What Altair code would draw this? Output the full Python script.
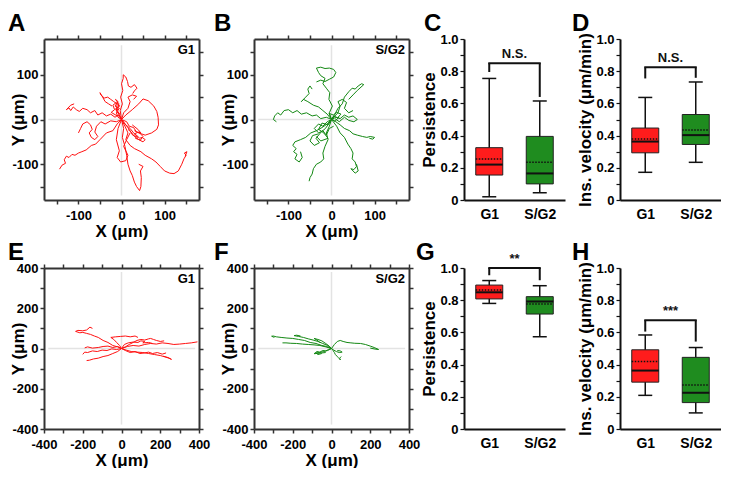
import altair as alt
import pandas as pd

FONT = "Liberation Sans"
GROUPS = ["G1", "S/G2"]
RED_LINE = "#ff1010"
GREEN_LINE = "#138813"
BOX_COLORS = ["#ff1c1c", "#1f8c1f"]

# ---------------- trajectories (um) ----------------
A_TRACKS = [
    [(0, 0), (-3, 20), (2, 35), (-2, 50), (3, 65), (0, 80), (4, 92), (4, 100), (10, 95), (14, 85), (16, 75), (22, 72), (30, 78), (36, 70), (30, 64), (26, 58)],
    [(0, 0), (-8, 10), (-15, 5), (-25, 12), (-35, 8), (-45, 15), (-55, 10), (-62, 20), (-72, 15), (-80, 22), (-90, 25), (-98, 18), (-105, 22), (-112, 28), (-118, 20), (-122, 26), (-128, 22), (-118, 32), (-110, 35)],
    [(0, 0), (-10, -10), (-20, -25), (-35, -30), (-50, -45), (-60, -55), (-70, -58), (-82, -68), (-92, -72), (-100, -75), (-108, -80), (-115, -78), (-122, -85), (-128, -82), (-133, -90), (-130, -98), (-138, -102), (-144, -111)],
    [(0, 0), (8, -15), (15, -30), (10, -45), (20, -58), (30, -65), (45, -72), (55, -80), (70, -88), (80, -95), (90, -105), (100, -115), (112, -120), (122, -121), (132, -115), (140, -100), (145, -88), (150, -80), (146, -75), (152, -72), (148, -82)],
    [(0, 0), (5, -20), (2, -40), (8, -60), (12, -80), (15, -100), (20, -115), (25, -125), (30, -140), (35, -150), (42, -159), (45, -150), (46, -130), (44, -115), (50, -105), (40, -100)],
    [(0, 0), (10, 10), (25, 22), (40, 35), (50, 46), (62, 42), (75, 30), (82, 18), (85, 5), (86, -12), (82, -22), (70, -30), (55, -35), (40, -30), (30, -25)],
    [(0, 0), (10, -12), (20, -20), (28, -30), (35, -35), (42, -42), (48, -40), (55, -45), (50, -50), (40, -45), (30, -38), (22, -28), (15, -22)],
    [(0, 0), (-5, 10), (-12, 20), (-10, 35), (-18, 40), (-25, 45), (-32, 50), (-40, 48), (-48, 55), (-50, 60), (-45, 52), (-38, 40), (-30, 35), (-22, 30)],
    [(0, 0), (-12, -5), (-25, -3), (-38, -10), (-48, -5), (-58, -15), (-62, -28), (-55, -38), (-62, -45), (-70, -40), (-75, -30), (-68, -22), (-72, -12), (-80, -5), (-90, -10), (-95, -20), (-100, -30)],
    [(0, 0), (-8, -20), (-12, -45), (-5, -70), (-10, -85), (-2, -95), (10, -92), (15, -80), (5, -60), (12, -45), (20, -30)],
    [(0, 0), (5, 15), (15, 25), (20, 40), (15, 50), (25, 55), (35, 52), (28, 45)],
    [(0, 0), (-8, 5), (-12, 15), (-5, 25), (-15, 30), (-8, 40), (-14, 45), (-6, 35), (-10, 20), (-4, 12)],
    [(0, 0), (12, -5), (18, -15), (28, -18), (35, -28), (45, -30), (38, -22), (25, -12)],
    [(0, 0), (-6, 12), (-14, 24), (-4, 30), (-12, 38), (-20, 32), (-16, 22), (-24, 16), (-10, 8)],
    [(0, 0), (18, -22), (26, -35), (38, -40), (30, -32), (40, -28), (50, -38), (44, -46), (32, -42)],
]

B_TRACKS = [
    [(0, 0), (-5, 15), (2, 30), (-6, 45), (-4, 60), (-12, 70), (-20, 80), (-15, 92), (-25, 98), (-30, 105), (-35, 115), (-25, 117), (-15, 114), (-5, 115), (5, 112), (10, 105), (5, 95), (-5, 90), (-15, 85), (-25, 88), (-35, 84)],
    [(0, 0), (8, 12), (15, 25), (25, 35), (30, 50), (40, 62), (48, 70), (55, 68), (62, 75), (70, 80), (75, 78), (60, 65), (50, 55), (40, 45)],
    [(0, 0), (-12, 5), (-25, 2), (-35, 10), (-45, 8), (-58, 15), (-70, 12), (-80, 20), (-90, 15), (-100, 22), (-110, 20), (-118, 10), (-125, 15), (-132, 8), (-135, 0), (-128, -5)],
    [(0, 0), (-10, 12), (-20, 20), (-30, 28), (-42, 32), (-55, 40), (-65, 45), (-70, 40), (-60, 50), (-52, 58), (-55, 68), (-50, 75), (-45, 68)],
    [(0, 0), (-10, -10), (-22, -18), (-35, -25), (-48, -30), (-60, -40), (-72, -45), (-85, -50), (-90, -58), (-82, -65), (-88, -72), (-80, -78), (-85, -88), (-75, -95), (-68, -85), (-72, -72)],
    [(0, 0), (-5, -15), (-12, -30), (-8, -45), (-15, -60), (-20, -75), (-18, -88), (-25, -95), (-35, -100), (-42, -110), (-45, -122), (-50, -130), (-52, -138)],
    [(0, 0), (10, -5), (20, -12), (30, -20), (42, -25), (50, -32), (60, -35), (72, -38), (82, -40), (90, -38), (100, -40), (96, -44), (88, -42)],
    [(0, 0), (12, -15), (20, -30), (30, -40), (38, -55), (45, -65), (50, -75), (48, -88), (55, -95), (58, -105), (52, -112), (45, -110), (55, -120), (62, -115), (58, -100)],
    [(0, 0), (10, 5), (20, 2), (30, 10), (40, 5), (50, 8), (60, 0), (52, -5), (40, -2), (30, 5), (18, -5), (8, 2)],
    [(0, 0), (-10, -5), (-20, -15), (-30, -10), (-40, -20), (-30, -30), (-20, -25), (-12, -35), (-5, -20), (5, -15)],
    [(0, 0), (15, 15), (20, 30), (15, 40), (25, 45), (35, 38), (30, 25), (40, 15), (50, 20)],
    [(0, 0), (-8, -12), (-22, -8), (-30, -22), (-18, -30), (-8, -42), (-25, -48), (-35, -38)],
    [(0, 0), (5, 8), (14, 4), (22, 12), (12, 16), (4, 10), (-6, 14), (-2, 4), (8, -4), (18, 6)],
    [(0, 0), (-14, -20), (-24, -28), (-36, -42), (-28, -52), (-40, -58), (-50, -48), (-44, -36), (-30, -32)],
]

E_TRACKS = [
    [(0, 0), (-20, 8), (-45, 15), (-70, 30), (-95, 40), (-120, 55), (-140, 62), (-160, 70), (-180, 75), (-200, 80), (-215, 78), (-237, 85), (-225, 90), (-200, 88), (-180, 92), (-163, 106), (-150, 100)],
    [(0, 0), (-25, -5), (-50, -2), (-75, -10), (-100, -8), (-125, -15), (-150, -12), (-175, -20), (-190, -18), (-200, -29)],
    [(0, 0), (-20, -15), (-45, -25), (-70, -35), (-95, -40), (-120, -48), (-145, -52), (-165, -58), (-180, -60)],
    [(0, 0), (30, 10), (60, 15), (90, 12), (120, 20), (150, 25), (180, 22), (210, 28), (240, 25), (270, 20), (300, 22), (330, 25), (360, 28), (392, 33)],
    [(0, 0), (25, -8), (50, -15), (80, -18), (110, -20), (140, -25), (170, -30), (200, -35), (225, -42), (245, -48), (258, -54), (240, -45), (215, -38)],
    [(0, 0), (20, 8), (40, 20), (60, 30), (80, 40), (100, 45), (120, 42), (140, 48), (150, 50), (165, 45), (180, 40), (200, 35), (220, 38)],
    [(0, 0), (-10, 15), (-25, 30), (-40, 45), (-55, 55), (-30, 58), (-5, 60), (20, 62), (45, 58), (70, 62), (85, 55)],
    [(0, 0), (-20, 10), (-45, 5), (-70, 12), (-95, 10), (-120, 5), (-150, 2), (-175, 8), (-190, 3)],
    [(0, 0), (20, -10), (45, -20), (70, -15), (95, -25), (120, -22), (140, -18), (160, -25), (185, -20), (210, -28), (230, -22)],
    [(0, 0), (15, 20), (35, 28), (60, 32), (85, 30), (100, 38), (120, 35), (110, 28), (140, 30), (160, 25)],
]

F_TRACKS = [
    [(0, 0), (-25, 10), (-50, 15), (-80, 25), (-110, 30), (-140, 40), (-170, 45), (-200, 50), (-230, 52), (-260, 55), (-285, 58), (-300, 62), (-309, 61), (-295, 55)],
    [(0, 0), (-20, 15), (-45, 25), (-70, 35), (-95, 42), (-120, 48), (-145, 55), (-170, 60), (-193, 64), (-180, 66), (-160, 62)],
    [(0, 0), (-30, 8), (-60, 15), (-90, 18), (-120, 20), (-150, 22), (-180, 25), (-210, 26), (-235, 28), (-253, 28)],
    [(0, 0), (15, 20), (30, 35), (45, 40), (60, 35), (80, 30), (100, 28), (120, 26), (150, 25), (175, 20), (200, 12), (220, 5), (243, -5), (225, -3), (200, 2)],
    [(0, 0), (-15, -5), (-30, -12), (-45, -10), (-60, -18), (-75, -15), (-90, -26), (-70, -24), (-50, -22), (-30, -20)],
    [(0, 0), (8, -10), (15, -20), (20, -30), (28, -38), (35, -45), (40, -50), (46, -57), (42, -48), (50, -40)],
    [(0, 0), (12, -8), (25, -15), (40, -20), (55, -18), (45, -12), (30, -10)],
    [(0, 0), (-12, 12), (-30, 25), (-50, 38), (-70, 45), (-90, 50), (-75, 42), (-60, 30)],
    [(0, 0), (-20, -10), (-40, -15), (-60, -20), (-80, -22), (-70, -30), (-50, -25)],
]

# axis ticks / limits
SMALL_LIM = 180
SMALL_TICKS = [-150, -100, -50, 0, 50, 100, 150]
BIG_LIM = 400
BIG_TICKS = [-400, -300, -200, -100, 0, 100, 200, 300, 400]
SMALL_CROSS = [-170, 166]
BIG_CROSS = [-378, 380]

# ---------------- box statistics ----------------
C_MIN = [0.02, 0.045]
C_Q1 = [0.155, 0.10]
C_MED = [0.22, 0.165]
C_Q3 = [0.325, 0.395]
C_MAX = [0.755, 0.615]
C_MEAN = [0.255, 0.235]
C_BRACKET = 0.85
C_LEGS = [0.795, 0.64]

D_MIN = [0.172, 0.234]
D_Q1 = [0.293, 0.345]
D_MED = [0.363, 0.403]
D_Q3 = [0.447, 0.531]
D_MAX = [0.637, 0.733]
D_MEAN = [0.379, 0.435]
D_BRACKET = 0.824
D_LEGS = [0.755, 0.759]

G_MIN = [0.78, 0.573]
G_Q1 = [0.808, 0.714]
G_MED = [0.849, 0.792]
G_Q3 = [0.894, 0.822]
G_MAX = [0.922, 0.89]
G_MEAN = [0.863, 0.776]
G_BRACKET = 1.0
G_LEGS = [0.955, 0.924]

H_MIN = [0.209, 0.10]
H_Q1 = [0.291, 0.164]
H_MED = [0.363, 0.225]
H_Q3 = [0.492, 0.445]
H_MAX = [0.584, 0.506]
H_MEAN = [0.42, 0.273]
H_BRACKET = 0.676
H_LEGS = [0.605, 0.543]

Y_TICKS = [0, 0.1, 0.2, 0.3, 0.4, 0.5, 0.6, 0.7, 0.8, 0.9, 1.0]

W1, W2, W3, W4 = 155, 155, 101, 101
HT = 161
DARK = "#333333"
INK = "#111111"


def letter_layer(letter, dx):
    return alt.Chart(alt.Data(values=[{"t": letter}])).mark_text(
        align="left", baseline="bottom", font=FONT, fontSize=24, fontWeight="bold", color="black"
    ).encode(x=alt.value(dx), y=alt.value(-3), text="t:N")


def tracks_df(tracks):
    rows = []
    for i, tr in enumerate(tracks):
        for j, (x, y) in enumerate(tr):
            rows.append({"track": i, "order": j, "x": x, "y": y})
    return pd.DataFrame(rows)


def scatter_panel(letter, ldx, label, tracks, color, lim, ticks, label_every, cross, W):
    df = tracks_df(tracks)
    sx = alt.Scale(domain=[-lim, lim], nice=False, zero=False)
    sy = alt.Scale(domain=[-lim, lim], nice=False, zero=False)
    lab = f"datum.value % {label_every} === 0 ? '' + datum.value : ''"
    common = dict(values=ticks, domainColor=DARK, domainWidth=2, tickColor=DARK,
                  tickWidth=1.5, tickSize=4, labelOverlap=False, labelFlush=False)
    ax_bottom = alt.Axis(orient="bottom", labelExpr=lab, title="X (μm)", labelPadding=5,
                         titlePadding=1, **common)
    ax_left = alt.Axis(orient="left", labelExpr=lab, title="Y (μm)", titlePadding=-16, **common)
    ax_top = alt.Axis(orient="top", labels=False, title=None, **common)
    ax_right = alt.Axis(orient="right", labels=False, title=None, **common)

    hrule = alt.Chart(alt.Data(values=[{"x": cross[0], "x2": cross[1], "y": 0}])).mark_rule(
        color="#e3e3e3", strokeWidth=1.5
    ).encode(
        x=alt.X("x:Q", scale=sx, axis=ax_top),
        x2="x2:Q",
        y=alt.Y("y:Q", scale=sy, axis=ax_right),
    )
    vrule = alt.Chart(alt.Data(values=[{"x": 0, "y": cross[0], "y2": cross[1]}])).mark_rule(
        color="#e3e3e3", strokeWidth=1.5
    ).encode(
        x=alt.X("x:Q", scale=sx, axis=None),
        y=alt.Y("y:Q", scale=sy, axis=None),
        y2="y2:Q",
    )
    lines = alt.Chart(df).mark_line(color=color, strokeWidth=1.0, clip=True).encode(
        x=alt.X("x:Q", scale=sx, axis=ax_bottom),
        y=alt.Y("y:Q", scale=sy, axis=ax_left),
        detail="track:N",
        order="order:Q",
    )
    txt = alt.Chart(alt.Data(values=[{"t": label}])).mark_text(
        align="right", baseline="top", font=FONT, fontSize=13, fontWeight="bold", color="black"
    ).encode(x=alt.value(W - 4), y=alt.value(5), text="t:N")
    return alt.layer(hrule, vrule, lines, txt, letter_layer(letter, ldx)).properties(width=W, height=HT)


def box_panel(letter, ldx, ytitle, mins, q1, med, q3, maxs, means, bracket, legs, sig, W):
    df = pd.DataFrame({
        "group": GROUPS, "min": mins, "q1": q1, "med": med, "q3": q3,
        "max": maxs, "mean": means, "leg": legs, "bracket": [bracket, bracket],
    })
    sxs = alt.Scale(type="point", domain=GROUPS, padding=0.5)
    sy = alt.Scale(domain=[0, 1], nice=False, zero=True)
    ax_x = alt.Axis(orient="bottom", title=None, ticks=False, labelPadding=7, labelFontSize=14,
                    domainColor=INK, domainWidth=2, labelAngle=0)
    ax_y = alt.Axis(orient="left", values=Y_TICKS, title=ytitle, titlePadding=1, labelOverlap=False,
                    labelFlush=False,
                    labelExpr="datum.value === 0 ? '0' : (round(datum.value * 10) % 2 === 0 ? format(datum.value, '.1f') : '')",
                    domainColor=INK, domainWidth=2, tickColor=INK, tickWidth=1.2, tickSize=4)

    def X(field):
        return alt.X(f"{field}:N", scale=sxs, axis=ax_x)

    def Y(field):
        return alt.Y(f"{field}:Q", scale=sy, axis=ax_y)

    base = alt.Chart(df)
    whisk = base.mark_rule(color=INK, strokeWidth=1.5).encode(x=X("group"), y=Y("min"), y2="max:Q")
    cap_lo = base.mark_rule(color=INK, strokeWidth=1.5, xOffset=-7, x2Offset=7).encode(
        x=X("group"), x2="group:N", y=Y("min"))
    cap_hi = base.mark_rule(color=INK, strokeWidth=1.5, xOffset=-7, x2Offset=7).encode(
        x=X("group"), x2="group:N", y=Y("max"))
    box = base.mark_bar(size=27, stroke="#222222", strokeWidth=1).encode(
        x=X("group"), y=Y("q1"), y2="q3:Q",
        color=alt.Color("group:N", scale=alt.Scale(domain=GROUPS, range=BOX_COLORS), legend=None))
    med_l = base.mark_rule(color=INK, strokeWidth=2, xOffset=-13.5, x2Offset=13.5).encode(
        x=X("group"), x2="group:N", y=Y("med"))
    mean_l = base.mark_rule(color=INK, strokeWidth=1.5, strokeDash=[1.5, 1.5],
                            xOffset=-13.5, x2Offset=13.5).encode(
        x=X("group"), x2="group:N", y=Y("mean"))
    legs_l = base.mark_rule(color=INK, strokeWidth=2).encode(x=X("group"), y=Y("leg"), y2="bracket:Q")
    br = alt.Chart(alt.Data(values=[{"a": GROUPS[0], "b": GROUPS[1], "y": bracket, "t": sig}]))
    hbar = br.mark_rule(color=INK, strokeWidth=2, xOffset=-1, x2Offset=1).encode(
        x=X("a"), x2="b:N", y=Y("y"))
    stxt = br.mark_text(dx=W / 4, dy=-2, baseline="bottom", align="center", font=FONT,
                        fontSize=13, fontWeight="bold", color=INK).encode(
        x=X("a"), y=Y("y"), text="t:N")
    return alt.layer(whisk, cap_lo, cap_hi, box, med_l, mean_l, legs_l, hbar, stxt,
                     letter_layer(letter, ldx)).properties(width=W, height=HT)


A = scatter_panel("A", -36, "G1", A_TRACKS, RED_LINE, SMALL_LIM, SMALL_TICKS, 100, SMALL_CROSS, W1)
B = scatter_panel("B", -40, "S/G2", B_TRACKS, GREEN_LINE, SMALL_LIM, SMALL_TICKS, 100, SMALL_CROSS, W2)
C = box_panel("C", -40, "Persistence", C_MIN, C_Q1, C_MED, C_Q3, C_MAX, C_MEAN, C_BRACKET, C_LEGS, "N.S.", W3)
D = box_panel("D", -48, "Ins. velocity (μm/min)", D_MIN, D_Q1, D_MED, D_Q3, D_MAX, D_MEAN, D_BRACKET, D_LEGS, "N.S.", W4)
E = scatter_panel("E", -36, "G1", E_TRACKS, RED_LINE, BIG_LIM, BIG_TICKS, 200, BIG_CROSS, W1)
F = scatter_panel("F", -40, "S/G2", F_TRACKS, GREEN_LINE, BIG_LIM, BIG_TICKS, 200, BIG_CROSS, W2)
G = box_panel("G", -48, "Persistence", G_MIN, G_Q1, G_MED, G_Q3, G_MAX, G_MEAN, G_BRACKET, G_LEGS, "**", W3)
H = box_panel("H", -48, "Ins. velocity (μm/min)", H_MIN, H_Q1, H_MED, H_Q3, H_MAX, H_MEAN, H_BRACKET, H_LEGS, "***", W4)

chart = alt.concat(
    A, B, C, D, E, F, G, H, columns=4, spacing={"row": 68, "column": 55}, bounds="flush"
).properties(
    padding={"top": 4, "left": 0, "right": 0, "bottom": 0}
).configure_view(
    strokeWidth=0
).configure_axis(
    grid=False,
    labelFont=FONT, labelFontSize=13, labelFontWeight="bold", labelColor="black", labelPadding=2,
    titleFont=FONT, titleFontSize=17, titleFontWeight="bold", titleColor="black",
)

chart.save("out.html", embed_options={"renderer": "svg", "actions": False})
